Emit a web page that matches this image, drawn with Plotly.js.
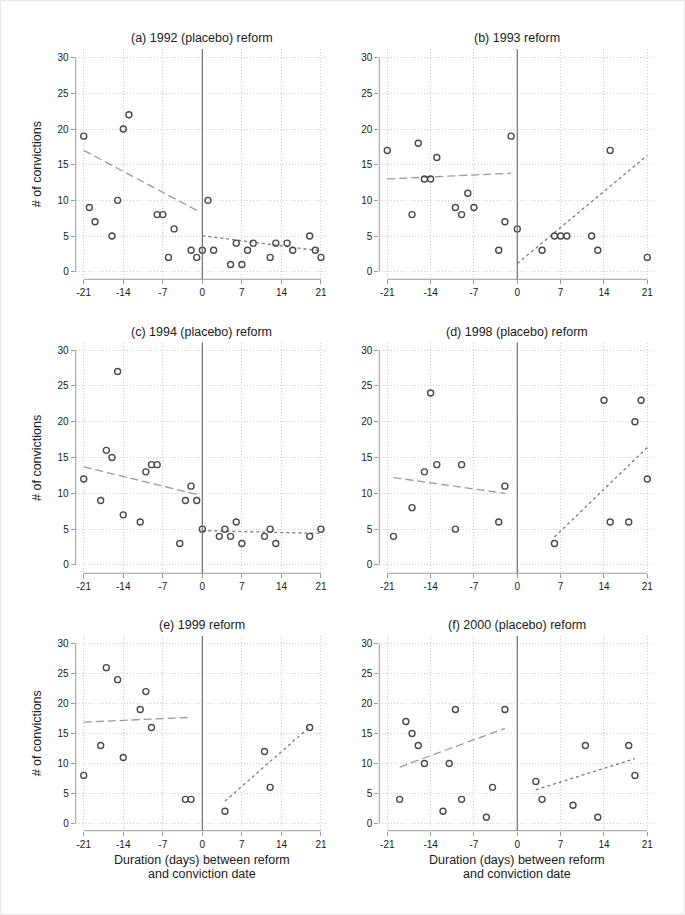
<!DOCTYPE html>
<html>
<head>
<meta charset="utf-8">
<script src="https://cdn.plot.ly/plotly-3.0.1.min.js"></script>
<style>html,body{margin:0;padding:0;background:#fff;}#chart{width:685px;height:915px;}</style>
</head>
<body>
<div id="chart"></div>
<script>
// ---- data ----
const panelTitles = ["(a) 1992 (placebo) reform", "(b) 1993 reform", "(c) 1994 (placebo) reform",
                     "(d) 1998 (placebo) reform", "(e) 1999 reform", "(f) 2000 (placebo) reform"];
const xTicks = [-21, -14, -7, 0, 7, 14, 21];
const yTicks = [0, 5, 10, 15, 20, 25, 30];
const yTitle = "# of convictions";
const xTitleLines = ["Duration (days) between reform", "and conviction date"];

const aX = [-21,-20,-19,-16,-15,-14,-13,-8,-7,-6,-5,-2,-1,0,1,2,5,6,7,8,9,12,13,15,16,19,20,21];
const aY = [19,9,7,5,10,20,22,8,8,2,6,3,2,3,10,3,1,4,1,3,4,2,4,4,3,5,3,2];
const bX = [-21,-17,-16,-15,-14,-13,-10,-9,-8,-7,-3,-2,-1,0,4,6,7,8,12,13,15,21];
const bY = [17,8,18,13,13,16,9,8,11,9,3,7,19,6,3,5,5,5,5,3,17,2];
const cX = [-21,-18,-17,-16,-15,-14,-11,-10,-9,-8,-4,-3,-2,-1,0,3,4,5,6,7,11,12,13,19,21];
const cY = [12,9,16,15,27,7,6,13,14,14,3,9,11,9,5,4,5,4,6,3,4,5,3,4,5];
const dX = [-20,-17,-15,-14,-13,-10,-9,-3,-2,6,14,15,18,19,20,21];
const dY = [4,8,13,24,14,5,14,6,11,3,23,6,6,20,23,12];
const eX = [-21,-18,-17,-15,-14,-11,-10,-9,-3,-2,4,11,12,19];
const eY = [8,13,26,24,11,19,22,16,4,4,2,12,6,16];
const fX = [-19,-18,-17,-16,-15,-12,-11,-10,-9,-5,-4,-2,3,4,9,11,13,18,19];
const fY = [4,17,15,13,10,2,10,19,4,1,6,19,7,4,3,13,1,13,8];

// fitted lines (before / after reform), endpoints
const aFitPreX = [-21,-1], aFitPreY = [17.0,8.6], aFitPostX = [0,21], aFitPostY = [5.05,2.9];
const bFitPreX = [-21,-1], bFitPreY = [13.0,13.8], bFitPostX = [0,21], bFitPostY = [1.15,16.3];
const cFitPreX = [-21,-1], cFitPreY = [13.7,9.85], cFitPostX = [0,21], cFitPostY = [4.8,4.4];
const dFitPreX = [-20,-2], dFitPreY = [12.2,10.0], dFitPostX = [6,21], dFitPostY = [3.9,16.4];
const eFitPreX = [-21,-2], eFitPreY = [16.9,17.7], eFitPostX = [4,19], eFitPostY = [3.7,16.1];
const fFitPreX = [-19,-2], fFitPreY = [9.4,15.85], fFitPostX = [3,19], fFitPostY = [5.6,10.8];

const scatX = [aX,bX,cX,dX,eX,fX];
const scatY = [aY,bY,cY,dY,eY,fY];
const fitPre = [[aFitPreX,aFitPreY],[bFitPreX,bFitPreY],[cFitPreX,cFitPreY],[dFitPreX,dFitPreY],[eFitPreX,eFitPreY],[fFitPreX,fFitPreY]];
const fitPost = [[aFitPostX,aFitPostY],[bFitPostX,bFitPostY],[cFitPostX,cFitPostY],[dFitPostX,dFitPostY],[eFitPostX,eFitPostY],[fFitPostX,fFitPostY]];

// ---- layout geometry (pixels) ----
const W = 685, H = 915;
const FONT = "Liberation Sans, Arial, Helvetica, sans-serif";
const cols = [ {l:75.7, r:327.7, xr:[-22.42, 22.19]}, {l:379.3, r:654.0, xr:[-22.29, 22.08]} ];
const rows = [ {t:49.0, b:279.3, yr:[-1.07, 31.22]},
               {t:342.5, b:573.3, yr:[-1.16, 31.05]},
               {t:636.0, b:830.7, yr:[-1.24, 31.29]} ];

const traces = [];
const layout = {
  width: W, height: H,
  margin: {l:0, r:0, t:0, b:0},
  paper_bgcolor: "#fff", plot_bgcolor: "#fff",
  showlegend: false,
  font: {family: FONT, color: "#1a1a1a", size: 10},
  shapes: [], annotations: []
};

// outer frame
layout.shapes.push({type:"rect", xref:"paper", yref:"paper", x0:0.6/W, x1:1-0.6/W, y0:0.6/H, y1:1-0.6/H,
  line:{color:"#e6e6e6", width:1}});

for (let i = 0; i < 6; i++) {
  const col = cols[i % 2], row = rows[Math.floor(i / 2)];
  const s = i === 0 ? "" : String(i + 1);
  const xa = "xaxis" + s, ya = "yaxis" + s;
  const xr = "x" + s, yr = "y" + s;
  layout[xa] = {
    domain: [col.l / W, col.r / W], range: col.xr, anchor: yr,
    tickvals: xTicks, ticktext: xTicks.map(String),
    ticks: "outside", ticklen: 4, tickwidth: 1, tickcolor: "#9a9a9a",
    showline: false, zeroline: false,
    showgrid: true, gridcolor: "#cfcfcf", gridwidth: 1, griddash: "1px,2px",
    tickfont: {size: 10, color: "#1a1a1a", family: FONT}, fixedrange: true
  };
  layout[ya] = {
    domain: [1 - row.b / H, 1 - row.t / H], range: row.yr, anchor: xr,
    tickvals: yTicks, ticktext: yTicks.map(String),
    ticks: "outside", ticklen: 4, tickwidth: 1, tickcolor: "#9a9a9a",
    showline: false, zeroline: false,
    showgrid: true, gridcolor: "#cfcfcf", gridwidth: 1, griddash: "1px,2px",
    tickfont: {size: 10, color: "#1a1a1a", family: FONT}, fixedrange: true
  };
  // axis lines spanning only the scale range
  layout.shapes.push({type:"line", xref:xr, yref:yr + " domain", x0:-21, x1:21, y0:0, y1:0,
    line:{color:"#9a9a9a", width:1}});
  layout.shapes.push({type:"line", xref:xr + " domain", yref:yr, x0:0, x1:0, y0:0, y1:30,
    line:{color:"#9a9a9a", width:1}});
  // reform date line
  layout.shapes.push({type:"line", xref:xr, yref:yr + " domain", x0:0, x1:0, y0:0, y1:1,
    line:{color:"#707070", width:1.2}});

  // fitted lines
  traces.push({type:"scatter", mode:"lines", x:fitPre[i][0], y:fitPre[i][1], xaxis:xr, yaxis:yr,
    line:{color:"#9a9a9a", width:1.3, dash:"8px,4px"}, hoverinfo:"skip"});
  traces.push({type:"scatter", mode:"lines", x:fitPost[i][0], y:fitPost[i][1], xaxis:xr, yaxis:yr,
    line:{color:"#7a7a7a", width:1.3, dash:"3px,3px"}, hoverinfo:"skip"});
  // observations
  traces.push({type:"scatter", mode:"markers", x:scatX[i], y:scatY[i], xaxis:xr, yaxis:yr,
    marker:{symbol:"circle-open", size:6, color:"#4a4a4a", line:{width:1.4, color:"#4a4a4a"}}});

  // panel title
  layout.annotations.push({xref:"paper", yref:"paper", x:(col.l + col.r) / 2 / W,
    y:1 - (row.t - 10.7) / H, yanchor:"middle", xanchor:"center", showarrow:false,
    text:panelTitles[i], font:{size:12.5, color:"#1a1a1a", family:FONT}});

  // y axis title (left column)
  if (i % 2 === 0) {
    layout.annotations.push({xref:"paper", yref:"paper", x:37 / W, y:1 - ((row.t + row.b) / 2) / H,
      xanchor:"center", yanchor:"middle", textangle:-90, showarrow:false,
      text:yTitle, font:{size:12.5, color:"#1a1a1a", family:FONT}});
  }
  // x axis title (bottom row)
  if (i >= 4) {
    const cx = (col.l + col.r) / 2 / W;
    layout.annotations.push({xref:"paper", yref:"paper", x:cx, y:1 - 860 / H, xanchor:"center",
      yanchor:"middle", showarrow:false, text:xTitleLines[0], font:{size:12.5, color:"#1a1a1a", family:FONT}});
    layout.annotations.push({xref:"paper", yref:"paper", x:cx, y:1 - 873.5 / H, xanchor:"center",
      yanchor:"middle", showarrow:false, text:xTitleLines[1], font:{size:12.5, color:"#1a1a1a", family:FONT}});
  }
}

Plotly.newPlot("chart", traces, layout, {displayModeBar:false, staticPlot:true});
</script>
</body>
</html>
